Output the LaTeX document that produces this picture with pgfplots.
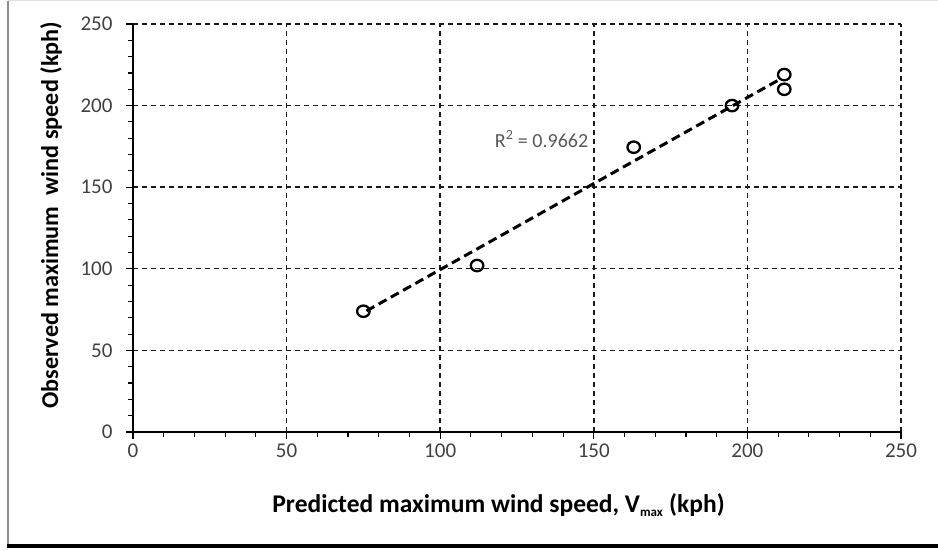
\documentclass[border=0pt]{standalone}
\usepackage{fontspec}
\setmainfont{Carlito}
\usepackage{pgfplots}
\pgfplotsset{compat=1.18}
\begin{document}
\begin{tikzpicture}
\useasboundingbox (-133pt,-119pt) rectangle (805pt,432pt);
\draw[black!45, line width=1.5pt] (-125pt,-114pt) -- (-125pt,431pt);
\draw[black!12, line width=1pt] (-125pt,431pt) -- (805pt,431pt);
\draw[black, line width=4pt] (-126pt,-114pt) -- (805pt,-114pt);
\begin{axis}[
  scale only axis,
  width=768pt, height=408pt,
  xmin=0, xmax=250, ymin=0, ymax=250,
  xtick={0,50,...,250}, ytick={0,50,...,250},
  minor tick num=4,
  axis x line*=bottom, axis y line*=left,
  axis line style={-, line width=1.3pt, black},
  tick align=outside,
  major tick length=7pt, minor tick length=5pt,
  tick style={line width=1.1pt, black},
  grid=major,
  major grid style={black!90, line width=1.4pt, dash pattern=on 5pt off 4pt},
  /pgf/number format/assume math mode=true,
  ticklabel style={font=\fontsize{21}{21}\selectfont, text=black!75},
  yticklabel style={xshift=-10pt},
  xticklabel style={yshift=-1pt},
  xlabel={\textbf{Predicted maximum wind speed, V\textsubscript{\fontsize{13}{13}\selectfont max} (kph)}},
  ylabel={\textbf{Observed maximum\ \ wind speed (kph)}},
  xlabel style={font=\fontsize{25.5}{25.5}\selectfont, at={(axis description cs:0.476,0)}, anchor=center, yshift=-73pt},
  ylabel style={font=\fontsize{24.2}{24.2}\selectfont, at={(axis description cs:0,0.531)}, anchor=center, yshift=82pt},
  clip=false,
]
\addplot[black, line width=3pt, dash pattern=on 9pt off 5pt] coordinates {(76,74.2) (210,215.5)};
\addplot[only marks, mark=o, mark size=5.7pt, mark options={line width=2.3pt, black, xscale=1.1}] coordinates {
(75,74) (112,102) (163,174.5) (195,200) (212,210) (212,219)
};
\node[font=\fontsize{20}{20}\selectfont, text=black!65] at (axis cs:133,179.5) {R\textsuperscript{2} = 0.9662};
\end{axis}
\end{tikzpicture}
\end{document}
